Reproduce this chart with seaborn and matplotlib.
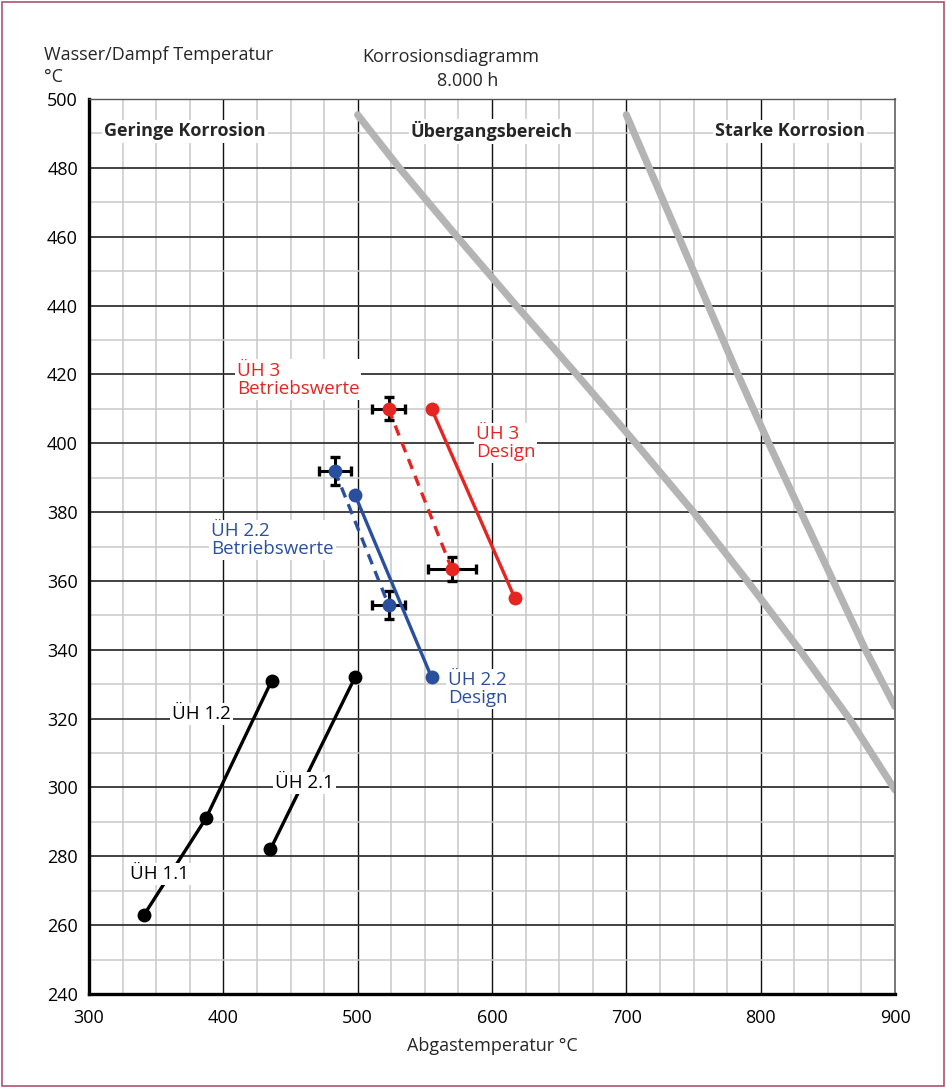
import matplotlib
matplotlib.use("Agg")
import matplotlib.pyplot as plt
from matplotlib.patches import Rectangle
from matplotlib.ticker import MultipleLocator
import numpy as np
import pandas as pd
import seaborn as sns

# --- data -------------------------------------------------------------
# corrosion zone boundaries (flue gas temp, steam temp)
bound1_x = [500, 531, 574, 618, 663, 707, 750, 790, 829, 866, 900]
bound1_y = [495.4, 480, 460, 440, 420, 400, 380, 360, 340, 320, 299.3]
bound2_x = [700, 717, 739, 761, 783, 806, 830, 854, 878, 900]
bound2_y = [495.4, 480, 460, 440, 420, 400, 380, 360, 340, 323.5]

# superheater stages
uh1_x = [341, 387, 436]
uh1_y = [263, 291, 331]
uh21_x = [435, 498]
uh21_y = [282, 332]
uh22_design_x = [498, 555]
uh22_design_y = [385, 332]
uh22_op_x = [483, 523]
uh22_op_y = [392, 353]
uh22_op_xerr = [12, 12]
uh22_op_yerr = [4, 4]
uh3_design_x = [555, 617]
uh3_design_y = [410, 355]
uh3_op_x = [523, 570]
uh3_op_y = [410, 363.5]
uh3_op_xerr = [12, 18]
uh3_op_yerr = [3.3, 3.5]

zone_labels = ["Geringe Korrosion", "Übergangsbereich", "Starke Korrosion"]
zone_x = [371.5, 600, 822]
zone_y = [490.6, 490.6, 490.6]

x_ticks = [300, 400, 500, 600, 700, 800, 900]
y_ticks = list(range(240, 501, 20))

# --- styling ----------------------------------------------------------
sns.set_theme(style="white")
FONT = ["Open Sans", "DejaVu Sans"]
plt.rcParams["font.family"] = FONT

RED = "#e52521"
BLUE = "#2b4f9f"
GREY = "#b4b4b4"

fig = plt.figure(figsize=(9.46, 10.88), dpi=100)
ax = fig.add_axes([89 / 946, 1 - 994 / 1088, (895 - 89) / 946, (994 - 99) / 1088])

ax.set_xlim(300, 900)
ax.set_ylim(240, 500)
ax.xaxis.set_major_locator(MultipleLocator(100))
ax.xaxis.set_minor_locator(MultipleLocator(25))
ax.yaxis.set_major_locator(MultipleLocator(20))
ax.yaxis.set_minor_locator(MultipleLocator(10))

ax.grid(which="minor", color="#c9c9c9", linewidth=1.1, zorder=0)
ax.grid(which="major", axis="x", color="#111111", linewidth=1.0, zorder=0)
ax.grid(which="major", axis="y", color="#333333", linewidth=1.3, zorder=0)
ax.set_axisbelow(True)

for side in ["left", "bottom"]:
    ax.spines[side].set_color("black")
    ax.spines[side].set_linewidth(2.4)
ax.spines["top"].set_color("#555555")
ax.spines["top"].set_linewidth(1.0)
ax.spines["right"].set_color("#777777")
ax.spines["right"].set_linewidth(1.4)

ax.tick_params(which="both", length=0, labelsize=13, colors="black")
ax.tick_params(axis="y", pad=8)
ax.tick_params(axis="x", pad=11)
ax.set_xticks(x_ticks)
ax.set_yticks(y_ticks)

# --- zone boundaries --------------------------------------------------
for bx, by in [(bound1_x, bound1_y), (bound2_x, bound2_y)]:
    sns.lineplot(x=bx, y=by, sort=False, color=GREY, linewidth=5.2,
                 solid_capstyle="round", solid_joinstyle="round",
                 ax=ax, zorder=2)

# --- superheater lines ------------------------------------------------
def stage(xs, ys, color, dashed=False):
    sns.lineplot(x=xs, y=ys, sort=False, color=color, linewidth=2.4,
                 linestyle=(0, (3.2, 2.2)) if dashed else "-",
                 marker="o", markersize=10, markeredgewidth=0,
                 ax=ax, zorder=4)

stage(uh1_x, uh1_y, "black")
stage(uh21_x, uh21_y, "black")
stage(uh22_design_x, uh22_design_y, BLUE)
stage(uh22_op_x, uh22_op_y, BLUE, dashed=True)
stage(uh3_design_x, uh3_design_y, RED)
stage(uh3_op_x, uh3_op_y, RED, dashed=True)

for xs, ys, xe, ye in [(uh22_op_x, uh22_op_y, uh22_op_xerr, uh22_op_yerr),
                       (uh3_op_x, uh3_op_y, uh3_op_xerr, uh3_op_yerr)]:
    ax.errorbar(xs, ys, xerr=xe, yerr=ye, fmt="none", ecolor="black",
                elinewidth=2.2, capsize=3.5, capthick=2.4, zorder=3)

# --- labels -----------------------------------------------------------
box = dict(facecolor="white", edgecolor="none", pad=1.5)
for txt, x, y in zip(zone_labels, zone_x, zone_y):
    ax.text(x, y, txt, ha="center", va="center", fontsize=13,
            fontweight="bold", bbox=box, zorder=5)

lbl = dict(fontsize=13.5, linespacing=1.0, bbox=box, zorder=5,
           ha="left", va="center")
ax.text(410, 418.5, "ÜH 3\nBetriebswerte", color=RED, **lbl)
ax.text(588, 400, "ÜH 3\nDesign", color=RED, **lbl)
ax.text(391, 372, "ÜH 2.2\nBetriebswerte", color=BLUE, **lbl)
ax.text(567, 328.5, "ÜH 2.2\nDesign", color=BLUE, **lbl)
ax.text(362, 321.3, "ÜH 1.2", color="black", **lbl)
ax.text(438.5, 301.3, "ÜH 2.1", color="black", **lbl)
ax.text(330.5, 274.8, "ÜH 1.1", color="black", **lbl)

ax.set_xlabel("Abgastemperatur °C", fontsize=13, labelpad=7)
ax.set_ylabel("")

fig.text(44 / 946, 1 - 55 / 1088, "Wasser/Dampf Temperatur", fontsize=13,
         ha="left", va="center")
fig.text(44 / 946, 1 - 77 / 1088, "°C", fontsize=13, ha="left", va="center")
fig.text(451 / 946, 1 - 57 / 1088, "Korrosionsdiagramm", fontsize=13,
         ha="center", va="center")
fig.text(468 / 946, 1 - 81 / 1088, "8.000 h", fontsize=13,
         ha="center", va="center")

# figure frame
fig.patches.append(Rectangle((0.002, 0.002), 0.996, 0.996,
                             transform=fig.transFigure, fill=False,
                             edgecolor="#b0506e", linewidth=1.2))

fig.savefig("out.png", dpi=100, facecolor="white")
